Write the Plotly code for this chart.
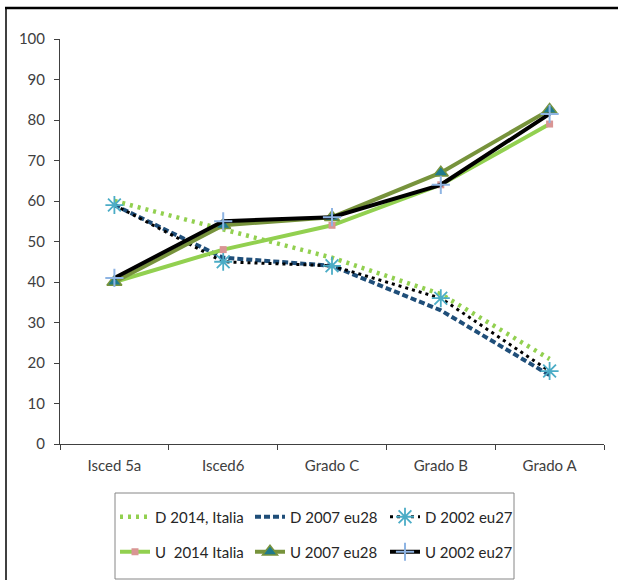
import plotly.graph_objects as go

categories = ["Isced 5a", "Isced6", "Grado C", "Grado B", "Grado A"]

d_2014_italia = [60, 53, 46, 37, 21]
d_2007_eu28 = [59, 46, 44, 33, 17]
d_2002_eu27 = [59, 45, 44, 36, 18]
u_2014_italia = [40, 48, 54, 64, 79]
u_2007_eu28 = [40, 54, 56, 67, 82.5]
u_2002_eu27 = [41, 55, 56, 64, 81.5]

y_ticks = list(range(0, 101, 10))

FONT = "Lato"

fig = go.Figure()

# Descending series (D)
fig.add_trace(go.Scatter(
    x=categories, y=d_2014_italia, name="D 2014, Italia", mode="lines",
    line=dict(color="#92D050", width=4.5, dash="3px,5px"), legend="legend"))
fig.add_trace(go.Scatter(
    x=categories, y=d_2007_eu28, name="D 2007 eu28", mode="lines",
    line=dict(color="#1F4E79", width=4, dash="6px,3px"), legend="legend"))
fig.add_trace(go.Scatter(
    x=categories, y=d_2002_eu27, name="D 2002 eu27", mode="lines+markers",
    line=dict(color="#000000", width=3, dash="3px,4px"),
    marker=dict(symbol="asterisk-open", size=15, color="#4BACC6",
                line=dict(color="#4BACC6", width=1.8)),
    legend="legend"))

# Ascending series (U)
fig.add_trace(go.Scatter(
    x=categories, y=u_2014_italia, name="U  2014 Italia", mode="lines+markers",
    line=dict(color="#92D050", width=4),
    marker=dict(symbol="square", size=7, color="#D99594"),
    legend="legend2"))
fig.add_trace(go.Scatter(
    x=categories, y=u_2007_eu28, name="U 2007 eu28", mode="lines+markers",
    line=dict(color="#77933C", width=4),
    marker=dict(symbol="triangle-up", size=13, color="#1F7A8C",
                line=dict(color="#77933C", width=1.5)),
    legend="legend2"))
fig.add_trace(go.Scatter(
    x=categories, y=u_2002_eu27, name="U 2002 eu27", mode="lines+markers",
    line=dict(color="#000000", width=4),
    marker=dict(symbol="cross-thin-open", size=13, color="#8EB4E3",
                line=dict(color="#8EB4E3", width=2)),
    legend="legend2"))

# Pixel geometry of the plotting area
W, H = 618, 580
L, R, T, B = 60, 604, 39, 444


def px(x):
    return (x - L) / (R - L)


def py(y):
    return (B - y) / (B - T)


shapes = [
    # outer frame (left and top edges)
    dict(type="line", xref="paper", yref="paper", x0=px(6), x1=px(6),
         y0=py(8), y1=py(582), line=dict(color="#404040", width=2)),
    dict(type="line", xref="paper", yref="paper", x0=px(5), x1=px(620),
         y0=py(8), y1=py(8), line=dict(color="#000000", width=2.5)),
    # legend box
    dict(type="rect", xref="paper", yref="paper", x0=px(115), x1=px(514),
         y0=py(493), y1=py(579), line=dict(color="#868686", width=1)),
]

legend_common = dict(
    orientation="h", xanchor="left", yanchor="middle",
    font=dict(family=FONT, size=15, color="#262626"),
    bgcolor="rgba(0,0,0,0)", borderwidth=0,
    entrywidth=90, entrywidthmode="pixels",
    itemwidth=30, tracegroupgap=0,
)

fig.update_layout(
    width=W, height=H,
    margin=dict(l=L, r=W - R, t=T, b=H - B, autoexpand=False),
    paper_bgcolor="white", plot_bgcolor="white",
    font=dict(family=FONT, size=14, color="#404040"),
    showlegend=True,
    legend=dict(x=px(115), y=py(517), **legend_common),
    legend2=dict(x=px(115), y=py(552), **legend_common),
    shapes=shapes,
    xaxis=dict(
        type="category", range=[-0.5, 4.5],
        showline=True, linecolor="#404040", linewidth=1,
        ticks="outside", tickson="boundaries", ticklen=5, tickcolor="#404040",
        showgrid=False, zeroline=False, ticklabelstandoff=8,
        tickfont=dict(family=FONT, size=15, color="#404040"),
    ),
    yaxis=dict(
        range=[0, 100], tickvals=y_ticks,
        showline=True, linecolor="#404040", linewidth=1,
        ticks="outside", ticklen=5, tickcolor="#404040",
        showgrid=False, zeroline=False, ticklabelstandoff=6,
        tickfont=dict(family=FONT, size=15, color="#404040"),
    ),
)

fig.write_html("out.html")
